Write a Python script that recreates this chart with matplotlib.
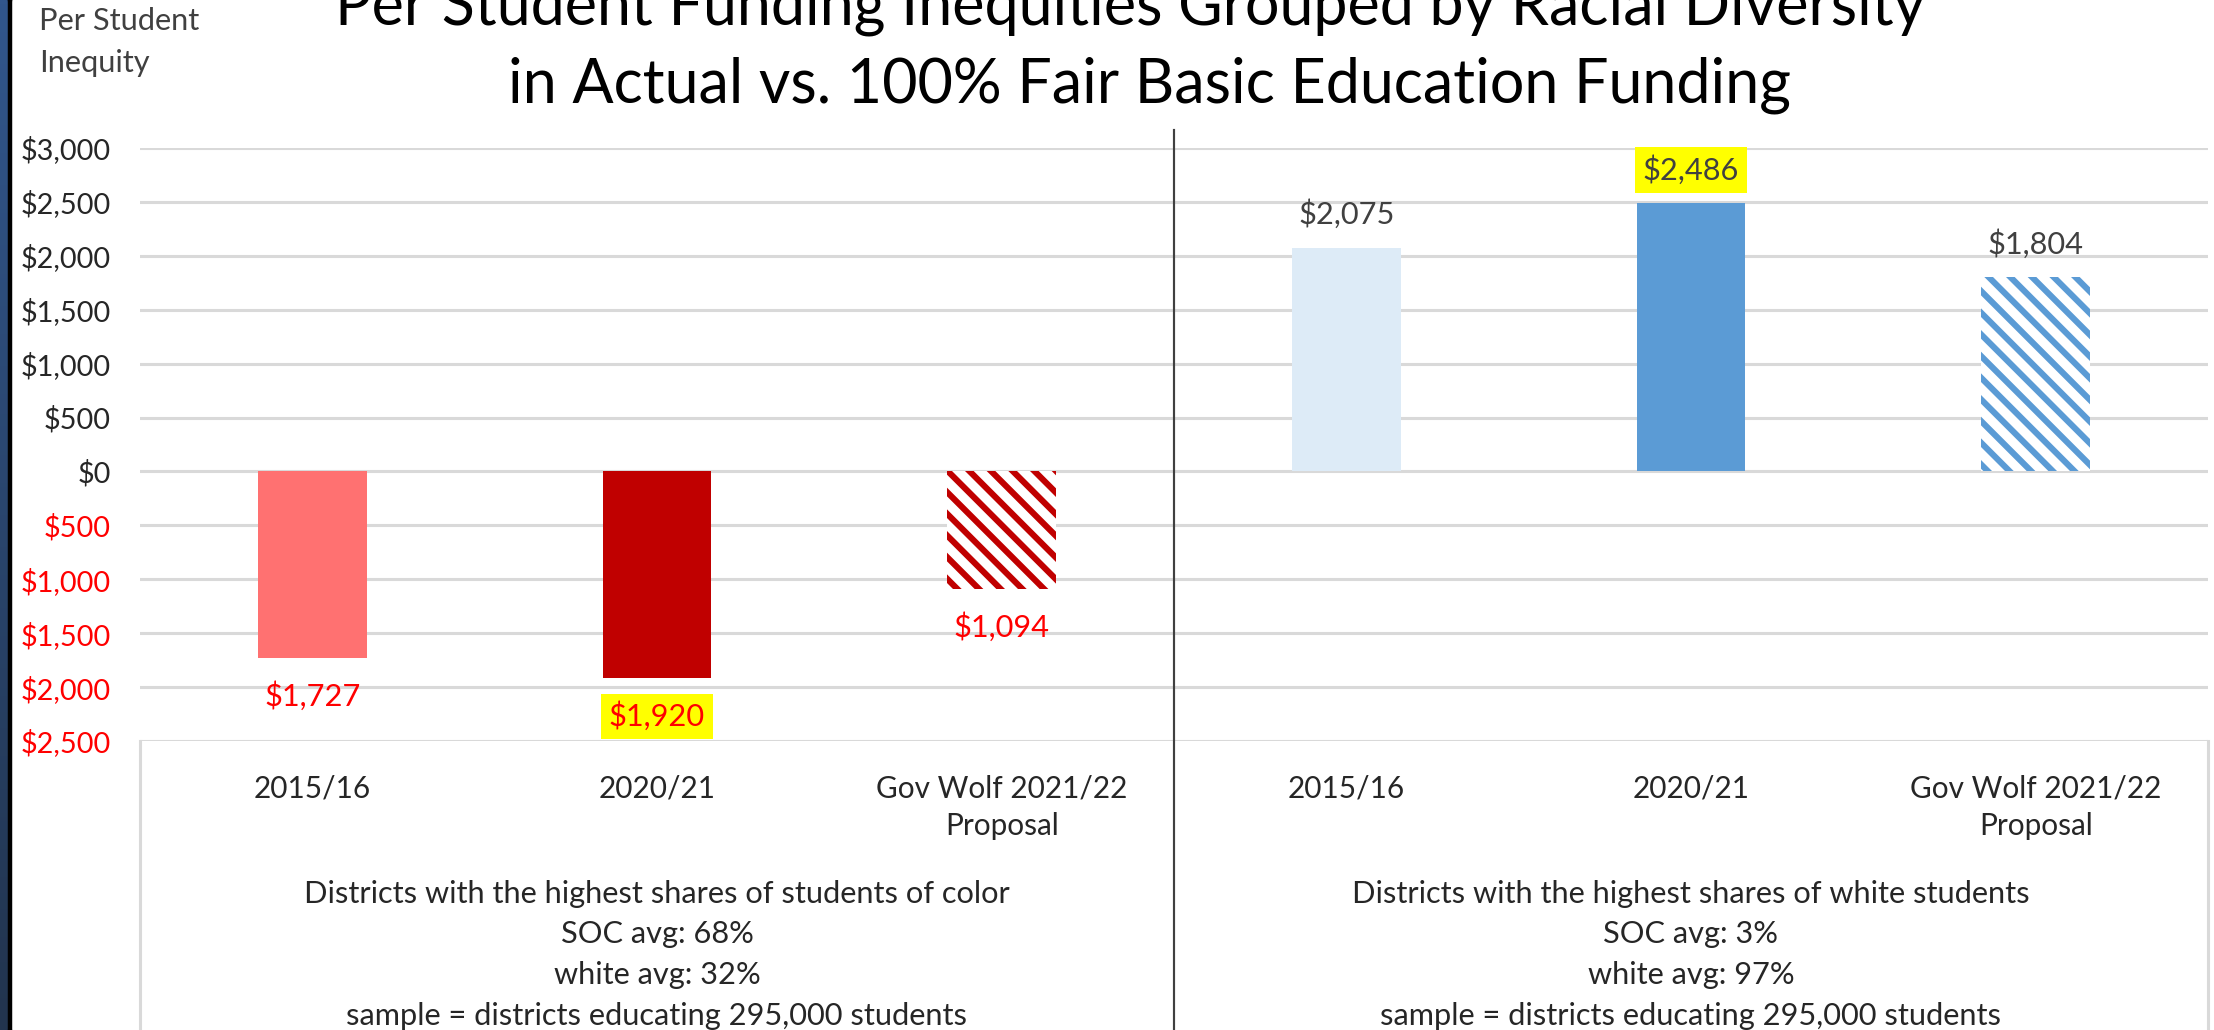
import numpy as np
import matplotlib
matplotlib.use('Agg')
import matplotlib.pyplot as plt
from matplotlib.colors import LinearSegmentedColormap

plt.rcParams['font.family'] = ['Lato', 'DejaVu Sans']
plt.rcParams['hatch.linewidth'] = 3.4

# data
categories = ['2015/16', '2020/21', 'Gov Wolf 2021/22\nProposal']
soc_values = [-1727, -1920, -1094]      # districts with most students of color
white_values = [2075, 2486, 1804]       # districts with most white students
highlight = [False, True, False]
y_ticks = [3000, 2500, 2000, 1500, 1000, 500, 0, -500, -1000, -1500, -2000, -2500]
soc_note = ('Districts with the highest shares of students of color\n'
            'SOC avg: 68%\nwhite avg: 32%\n'
            'sample = districts educating 295,000 students')
white_note = ('Districts with the highest shares of white students\n'
              'SOC avg: 3%\nwhite avg: 97%\n'
              'sample = districts educating 295,000 students')

soc_colors = ['#FF7171', '#C00000', '#C00000']
white_colors = ['#DDEBF7', '#5B9BD5', '#5B9BD5']
hatched = [False, False, True]

DPI = 130
W, H = 2214, 1030
fig = plt.figure(figsize=(W / DPI, H / DPI), dpi=DPI)
fig.patch.set_facecolor('white')

# dark strip on the left edge
strip = fig.add_axes([0, 0, 8 / W, 1])
grad = np.linspace(0, 1, 256).reshape(-1, 1)
cmap = LinearSegmentedColormap.from_list('strip', ['#31568c', '#22344e'])
strip.imshow(grad, aspect='auto', cmap=cmap)
strip.axis('off')
edge = fig.add_axes([8 / W, 0, 3 / W, 1])
edge.set_facecolor('black')
edge.set_xticks([]), edge.set_yticks([])

ax = fig.add_axes([140 / W, 289 / H, (2208 - 140) / W, 593 / H])

x = np.arange(6)
values = soc_values + white_values
colors = soc_colors + white_colors
bw = 0.316
for i in range(6):
    if (hatched * 2)[i]:
        ax.bar(x[i], values[i], width=bw, facecolor='white', edgecolor=colors[i],
               linewidth=0, hatch='\\\\', zorder=3)
    else:
        ax.bar(x[i], values[i], width=bw, color=colors[i], linewidth=0, zorder=3)

# value labels
for i in range(6):
    v = values[i]
    hl = (highlight * 2)[i]
    if v < 0:
        off, col = -21, '#FF0000'
    else:
        off, col = 18.5, '#404040'
    box = dict(boxstyle='square,pad=0.25', fc='#FFFF00', ec='none') if hl else None
    ax.annotate('${:,}'.format(abs(v)), (x[i], v), xytext=(0, off),
                textcoords='offset points', ha='center', va='center',
                fontsize=17, color=col, bbox=box, zorder=4)

ax.set_xlim(-0.5, 5.5)
ax.set_ylim(-2500, 3000)
ax.set_yticks(y_ticks)
ax.set_yticklabels(['${:,}'.format(abs(t)) for t in y_ticks], fontsize=16)
for t, lab in zip(y_ticks, ax.get_yticklabels()):
    lab.set_color('#FF0000' if t < 0 else '#262626')
ax.set_xticks(x)
ax.set_xticklabels(categories * 2, fontsize=16.5, color='#262626', linespacing=1.4)
ax.tick_params(axis='y', length=0, pad=16)
ax.tick_params(axis='x', length=0, pad=18.5)
ax.yaxis.grid(True, color='#D9D9D9', linewidth=1.7, zorder=0)
ax.set_axisbelow(True)
for s in ax.spines.values():
    s.set_visible(False)

# category box and divider
ax.plot([0, 0], [0, -0.6], transform=ax.transAxes, color='#D9D9D9', lw=1.7, clip_on=False)
ax.plot([1, 1], [0, -0.6], transform=ax.transAxes, color='#D9D9D9', lw=1.7, clip_on=False)
ax.plot([2.5, 2.5], [1.03, -0.6], transform=ax.get_xaxis_transform(), color='#404040',
        lw=1.2, clip_on=False, zorder=5)

# group notes
ax.text(1, -0.234, soc_note, transform=ax.get_xaxis_transform(), ha='center', va='top',
        fontsize=17, color='#262626', linespacing=1.55)
ax.text(4, -0.234, white_note, transform=ax.get_xaxis_transform(), ha='center', va='top',
        fontsize=17, color='#262626', linespacing=1.55)

# title and axis label
fig.text(1130 / W, 1 - 25 / H, 'Per Student Funding Inequities Grouped by Racial Diversity',
         ha='center', va='baseline', fontsize=33.8, color='black')
fig.text(1149 / W, 1 - 102 / H, 'in Actual vs. 100% Fair Basic Education Funding',
         ha='center', va='baseline', fontsize=33.8, color='black')
fig.text(39 / W, 1 - 7 / H, 'Per Student\nInequity', ha='left', va='top',
         fontsize=17, color='#404040', linespacing=1.6)

fig.savefig('out.png', dpi=DPI, facecolor='white')
